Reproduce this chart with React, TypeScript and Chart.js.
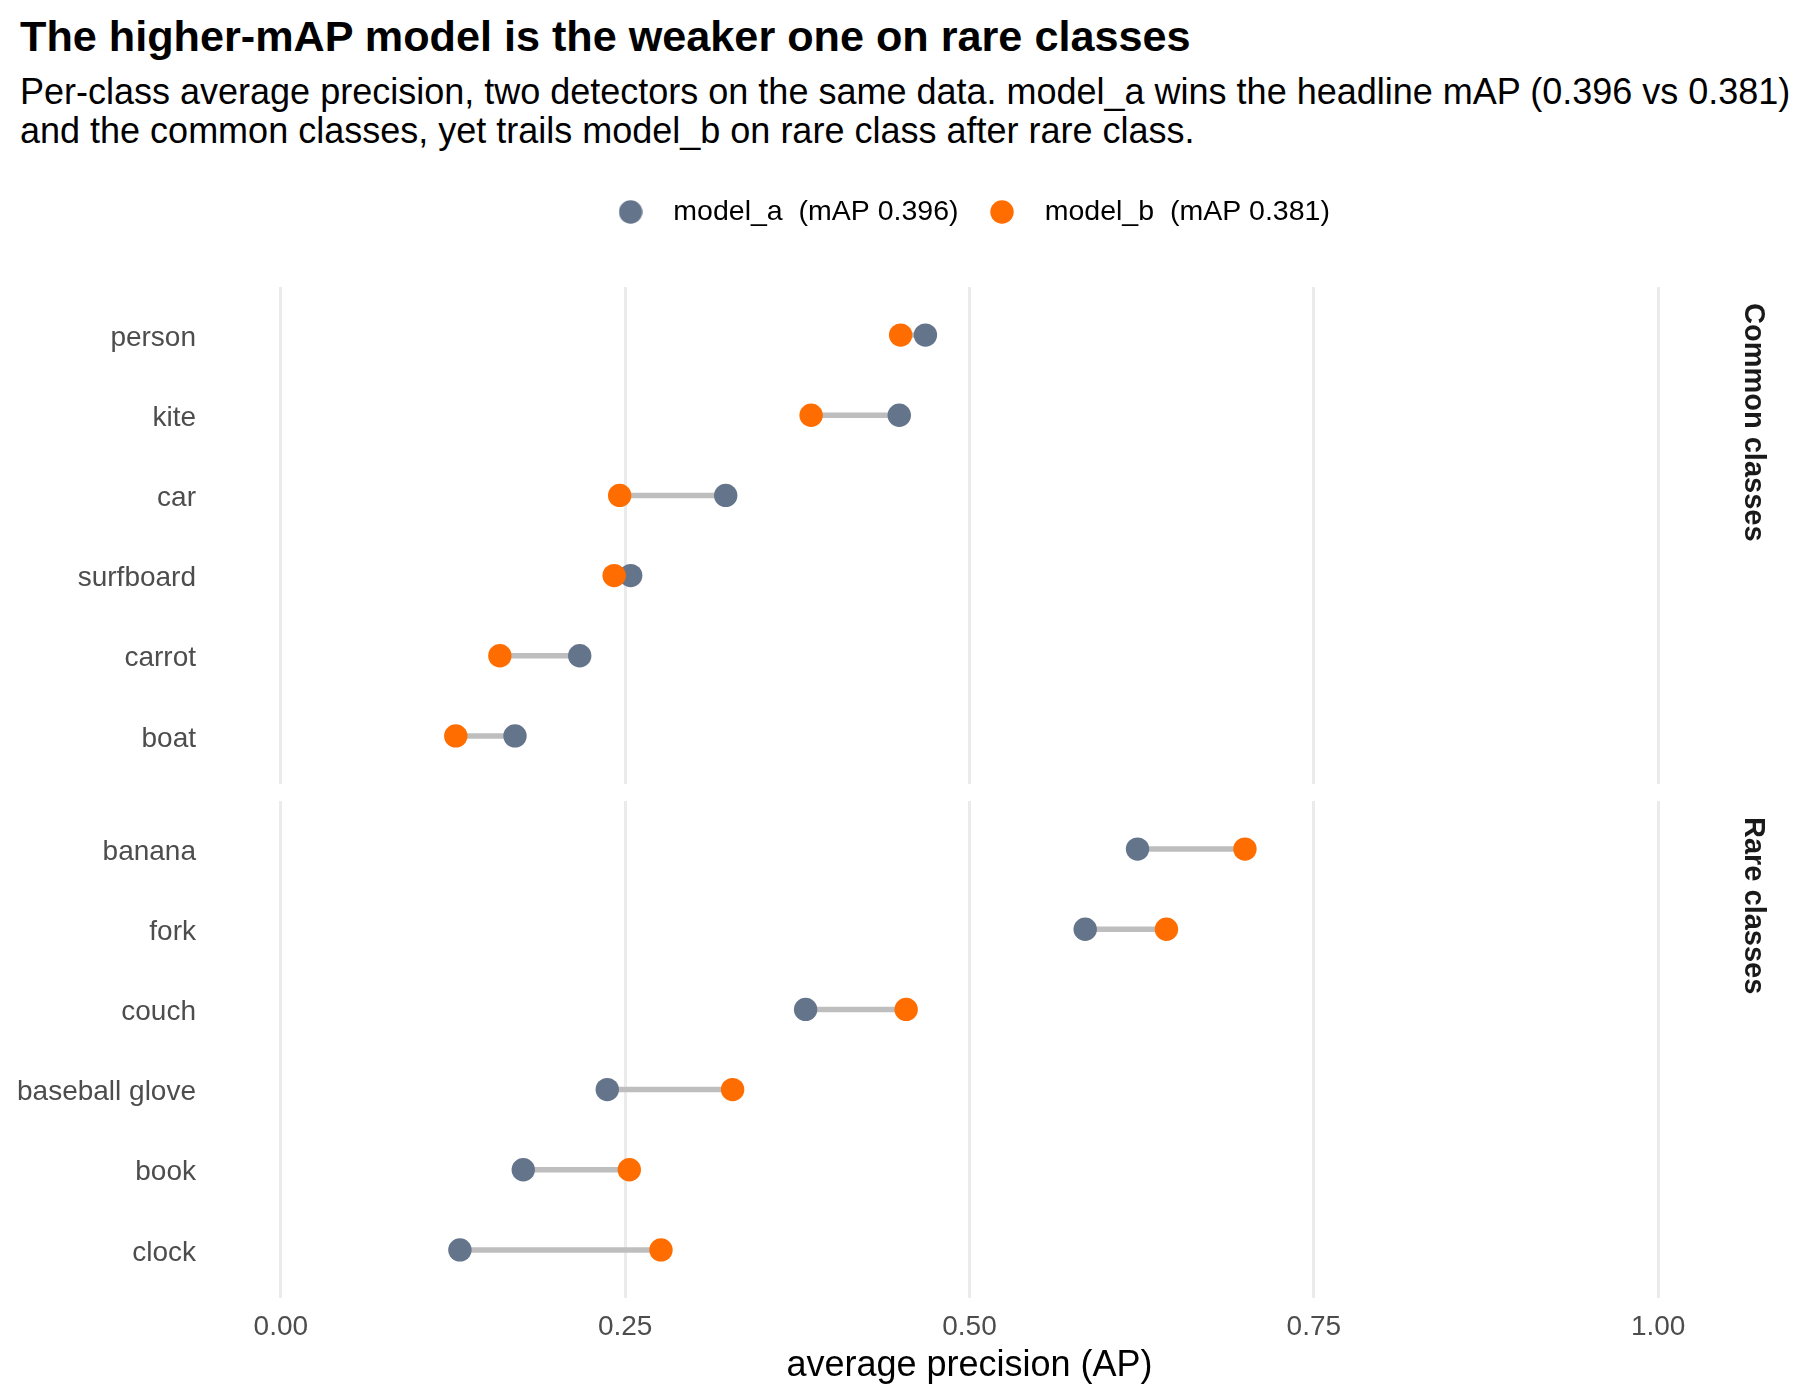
import React, { useEffect, useRef } from 'react';
import { Chart, registerables } from 'chart.js';

Chart.register(...registerables);

// ---------------- data ----------------
const commonClasses = ['person', 'kite', 'car', 'surfboard', 'carrot', 'boat'];
const commonModelA = [0.468, 0.449, 0.323, 0.254, 0.217, 0.170];
const commonModelB = [0.450, 0.385, 0.246, 0.242, 0.159, 0.127];

const rareClasses = ['banana', 'fork', 'couch', 'baseball glove', 'book', 'clock'];
const rareModelA = [0.622, 0.584, 0.381, 0.237, 0.176, 0.130];
const rareModelB = [0.700, 0.643, 0.454, 0.328, 0.253, 0.276];

const xTickValues = [0, 0.25, 0.5, 0.75, 1];
const seriesLabels = ['model_a  (mAP 0.396)', 'model_b  (mAP 0.381)'];
const panelLabels = ['Common classes', 'Rare classes'];
const xAxisTitle = 'average precision (AP)';
const titleText = 'The higher-mAP model is the weaker one on rare classes';
const subtitleLines = [
  'Per-class average precision, two detectors on the same data. model_a wins the headline mAP (0.396 vs 0.381)',
  'and the common classes, yet trails model_b on rare class after rare class.',
];

// ---------------- styles ----------------
const FONT = "'Liberation Sans', Arial, Helvetica, sans-serif";
const COLOR_A = '#64748B';
const COLOR_B = '#FF6D00';
const SEG_COLOR = '#BEBEBE';
const GRID_COLOR = '#EBEBEB';
const AXIS_TEXT = '#4D4D4D';
const POINT_R = 11.7;

function makeDot(color: string) {
  const c = document.createElement('canvas');
  c.width = 24;
  c.height = 24;
  const ctx = c.getContext('2d')!;
  ctx.fillStyle = color;
  ctx.beginPath();
  ctx.arc(12, 12, POINT_R, 0, Math.PI * 2);
  ctx.fill();
  return c;
}

function buildDatasets(classes: string[], a: number[], b: number[]) {
  const ds: any[] = [
    {
      label: seriesLabels[0],
      data: classes.map((_, i) => ({ x: a[i], y: i })),
      backgroundColor: COLOR_A,
      borderColor: COLOR_A,
      pointRadius: POINT_R,
      pointHoverRadius: POINT_R,
      pointBorderWidth: 0,
      showLine: false,
      order: 1,
    },
    {
      label: seriesLabels[1],
      data: classes.map((_, i) => ({ x: b[i], y: i })),
      backgroundColor: COLOR_B,
      borderColor: COLOR_B,
      pointRadius: POINT_R,
      pointHoverRadius: POINT_R,
      pointBorderWidth: 0,
      showLine: false,
      order: 0,
    },
  ];
  classes.forEach((c, i) => {
    ds.push({
      label: c,
      data: [
        { x: a[i], y: i },
        { x: b[i], y: i },
      ],
      showLine: true,
      borderColor: SEG_COLOR,
      backgroundColor: SEG_COLOR,
      borderWidth: 5.5,
      borderCapStyle: 'butt',
      pointRadius: 0,
      pointHoverRadius: 0,
      order: 2,
    });
  });
  return ds;
}

function stripPlugin(text: string) {
  return {
    id: 'stripLabel',
    afterDraw(chart: any) {
      const { ctx, chartArea } = chart;
      ctx.save();
      ctx.translate(chartArea.right + 25.5, chartArea.top + 16);
      ctx.rotate(Math.PI / 2);
      ctx.font = `bold 29px ${FONT}`;
      ctx.fillStyle = '#1A1A1A';
      ctx.textAlign = 'left';
      ctx.textBaseline = 'middle';
      ctx.fillText(text, 0, 0);
      ctx.restore();
    },
  };
}

function zeroPadding(s: any) {
  s.paddingTop = 0;
  s.paddingBottom = 0;
  s.paddingLeft = 0;
  s.paddingRight = 0;
}

function yScale(classes: string[]) {
  return {
    type: 'linear',
    position: 'left',
    min: -0.6,
    max: 5.6,
    reverse: true,
    afterBuildTicks: (s: any) => {
      s.ticks = classes.map((_, i) => ({ value: i }));
    },
    ticks: {
      autoSkip: false,
      padding: 16,
      labelOffset: 3,
      color: AXIS_TEXT,
      font: { family: FONT, size: 28 },
      callback: (v: any) => classes[v] ?? '',
    },
    grid: { display: false, drawTicks: false },
    border: { display: false },
    afterFit: (s: any) => {
      s.width = 212;
      zeroPadding(s);
    },
  };
}

function xGrid() {
  return { color: GRID_COLOR, lineWidth: 3, drawTicks: false };
}

export default function App() {
  const refA = useRef<HTMLCanvasElement>(null);
  const refB = useRef<HTMLCanvasElement>(null);

  useEffect(() => {
    Chart.defaults.font.family = FONT;
    const dots = [makeDot(COLOR_A), makeDot(COLOR_B)];
    const colors = [COLOR_A, COLOR_B];

    const chartA = new Chart(refA.current!, {
      type: 'scatter',
      data: { datasets: buildDatasets(commonClasses, commonModelA, commonModelB) },
      plugins: [stripPlugin(panelLabels[0])],
      options: {
        animation: false,
        responsive: false,
        events: [],
        layout: { autoPadding: false, padding: { left: 0, right: 0, top: 182.75, bottom: 0 } },
        plugins: {
          title: { display: false },
          tooltip: { enabled: false },
          legend: {
            display: true,
            position: 'top',
            labels: {
              usePointStyle: true,
              pointStyleWidth: 57,
              padding: 15,
              color: '#000000',
              font: { family: FONT, size: 28.5 },
              generateLabels: () =>
                seriesLabels.map((t, i) => ({
                  text: t,
                  fillStyle: colors[i],
                  strokeStyle: colors[i],
                  lineWidth: 0,
                  hidden: false,
                  datasetIndex: i,
                  pointStyle: dots[i],
                  fontColor: '#000000',
                })),
            },
          },
        },
        scales: {
          x: {
            type: 'linear',
            position: 'top',
            min: -0.05,
            max: 1.05,
            afterBuildTicks: (s: any) => {
              s.ticks = xTickValues.map((v) => ({ value: v }));
            },
            ticks: { display: false },
            grid: xGrid(),
            border: { display: false },
            afterFit: (s: any) => {
              s.height = 50.75;
              zeroPadding(s);
            },
          },
          y: yScale(commonClasses),
          // empty strip column on the right (holds the facet label)
          stripSpace: {
            type: 'linear',
            position: 'right',
            display: true,
            ticks: { display: false },
            grid: { display: false, drawTicks: false },
            border: { display: false },
            afterFit: (s: any) => {
              s.width = 205;
              zeroPadding(s);
            },
          },
        },
      } as any,
    });

    const chartB = new Chart(refB.current!, {
      type: 'scatter',
      data: { datasets: buildDatasets(rareClasses, rareModelA, rareModelB) },
      plugins: [stripPlugin(panelLabels[1])],
      options: {
        animation: false,
        responsive: false,
        events: [],
        layout: { autoPadding: false, padding: { left: 0, right: 73, top: 0, bottom: 0 } },
        plugins: {
          title: { display: false },
          tooltip: { enabled: false },
          legend: { display: false },
        },
        scales: {
          x: {
            type: 'linear',
            position: 'bottom',
            min: -0.05,
            max: 1.05,
            afterBuildTicks: (s: any) => {
              s.ticks = xTickValues.map((v) => ({ value: v }));
            },
            ticks: {
              autoSkip: false,
              maxRotation: 0,
              padding: 12,
              color: AXIS_TEXT,
              font: { family: FONT, size: 28 },
              callback: (v: any) => Number(v).toFixed(2),
            },
            title: {
              display: true,
              text: xAxisTitle,
              color: '#000000',
              font: { family: FONT, size: 36 },
              padding: { top: 0, bottom: 12 },
            },
            grid: xGrid(),
            border: { display: false },
            afterFit: (s: any) => {
              s.height = 102;
              zeroPadding(s);
            },
          },
          y: yScale(rareClasses),
        },
      } as any,
    });

    return () => {
      chartA.destroy();
      chartB.destroy();
    };
  }, []);

  return (
    <div
      style={{
        position: 'absolute',
        left: 0,
        top: 0,
        width: 1800,
        height: 1400,
        background: '#ffffff',
        overflow: 'hidden',
      }}
    >
      <div
        style={{
          position: 'absolute',
          left: 20,
          top: 11,
          fontFamily: FONT,
          fontWeight: 'bold',
          fontSize: 43.2,
          lineHeight: '50px',
          color: '#000',
          whiteSpace: 'nowrap',
        }}
      >
        {titleText}
      </div>
      <div
        style={{
          position: 'absolute',
          left: 20,
          top: 73,
          fontFamily: FONT,
          fontSize: 36,
          lineHeight: '38.5px',
          color: '#000',
          whiteSpace: 'nowrap',
        }}
      >
        {subtitleLines[0]}
        <br />
        {subtitleLines[1]}
      </div>
      <canvas
        ref={refA}
        width={1932}
        height={784}
        style={{ position: 'absolute', left: 0, top: 0 }}
      />
      <canvas
        ref={refB}
        width={1800}
        height={599}
        style={{ position: 'absolute', left: 0, top: 801 }}
      />
    </div>
  );
}
